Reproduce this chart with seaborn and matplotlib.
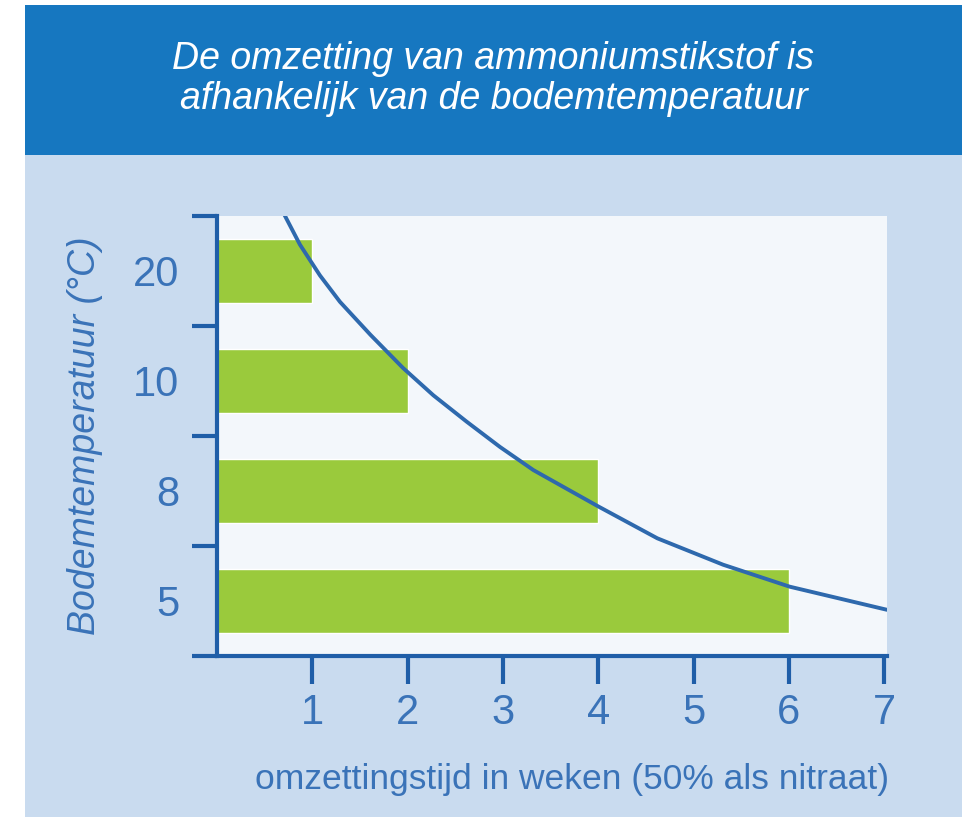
import matplotlib
matplotlib.use("Agg")
import matplotlib.pyplot as plt
import seaborn as sns
import pandas as pd
from matplotlib.patches import Rectangle

# Soil temperature classes (°C) and conversion time in weeks (50% as nitrate)
temperatures = ["20", "10", "8", "5"]
weeks = [1, 2, 4, 6]

# Trend curve: weeks vs. position on the temperature axis
curve_weeks = [0.69, 0.87, 1.08, 1.29, 1.61, 1.95, 2.27, 2.62, 2.97,
               3.32, 3.67, 4.00, 4.62, 5.31, 6.01, 7.03]
curve_pos = [-0.54, -0.24, 0.04, 0.28, 0.58, 0.88, 1.13, 1.37, 1.60,
             1.81, 1.98, 2.14, 2.43, 2.67, 2.87, 3.08]

x_ticks = [1, 2, 3, 4, 5, 6, 7]

title = "De omzetting van ammoniumstikstof is\nafhankelijk van de bodemtemperatuur"
y_label = "Bodemtemperatuur (°C)"
x_label = "omzettingstijd in weken (50% als nitraat)"

header_blue = "#1677c0"
panel_blue = "#c9dbef"
plot_bg = "#f3f7fb"
bar_green = "#9aca3c"
axis_blue = "#1f5ea8"
curve_blue = "#2e69ad"
text_blue = "#3a73b8"

sns.set_style("white")
plt.rcParams["font.family"] = ["Liberation Sans", "DejaVu Sans"]

W, H = 969, 817
fig = plt.figure(figsize=(W / 100, H / 100), dpi=100)
fig.patch.set_facecolor("white")

# Background panel and title header (kept behind the axes)
fig.patches.append(Rectangle((25 / W, 0), (962 - 25) / W, (817 - 5) / H,
                             transform=fig.transFigure, facecolor=panel_blue,
                             edgecolor="none", zorder=-10))
fig.patches.append(Rectangle((25 / W, 1 - 155 / H), (962 - 25) / W, (155 - 5) / H,
                             transform=fig.transFigure, facecolor=header_blue,
                             edgecolor="none", zorder=-9))
fig.text(493.5 / W, 1 - 79 / H, title, ha="center", va="center",
         color="white", fontsize=27, style="italic", linespacing=1.15)

left, right, top, bottom = 217, 887, 216, 656
ax = fig.add_axes([left / W, 1 - bottom / H, (right - left) / W, (bottom - top) / H])
ax.set_facecolor(plot_bg)

df = pd.DataFrame({"temp": temperatures, "weeks": weeks})
sns.barplot(data=df, x="weeks", y="temp", order=temperatures, orient="h",
            color=bar_green, saturation=1, width=0.58, ax=ax, zorder=2)

sns.lineplot(x=curve_weeks, y=curve_pos, sort=False, estimator=None,
             color=curve_blue, linewidth=2.8, solid_joinstyle="round",
             ax=ax, zorder=3)

ax.set_xlim(0, 7.03)
ax.set_ylim(3.5, -0.5)

# Ticks on the y axis mark the class boundaries; labels sit at the class centres
ax.set_yticks([-0.5, 0.5, 1.5, 2.5, 3.5], labels=[])
ax.set_yticks(range(len(temperatures)), labels=temperatures, minor=True)
ax.tick_params(axis="y", which="major", direction="out", length=18, width=3,
               color=axis_blue, left=True)
ax.tick_params(axis="y", which="minor", length=0, pad=27, labelsize=30,
               labelcolor=text_blue, left=True)

ax.set_xticks(x_ticks, labels=[str(t) for t in x_ticks])
ax.tick_params(axis="x", which="major", direction="out", length=20, width=3,
               color=axis_blue, bottom=True, pad=7, labelsize=30,
               labelcolor=text_blue)

for side in ("top", "right"):
    ax.spines[side].set_visible(False)
for side in ("left", "bottom"):
    ax.spines[side].set_color(axis_blue)
    ax.spines[side].set_linewidth(3)
    ax.spines[side].set_zorder(4)

ax.set_xlabel(x_label, fontsize=25.5, color=text_blue, va="center")
ax.xaxis.set_label_coords((572 - left) / (right - left), -(780 - bottom) / (bottom - top))
ax.set_ylabel(y_label, fontsize=27, color=text_blue, style="italic", va="center")
ax.yaxis.set_label_coords(-(left - 85) / (right - left), (bottom - 436) / (bottom - top))

fig.savefig("out.png", dpi=100, facecolor=fig.get_facecolor())
